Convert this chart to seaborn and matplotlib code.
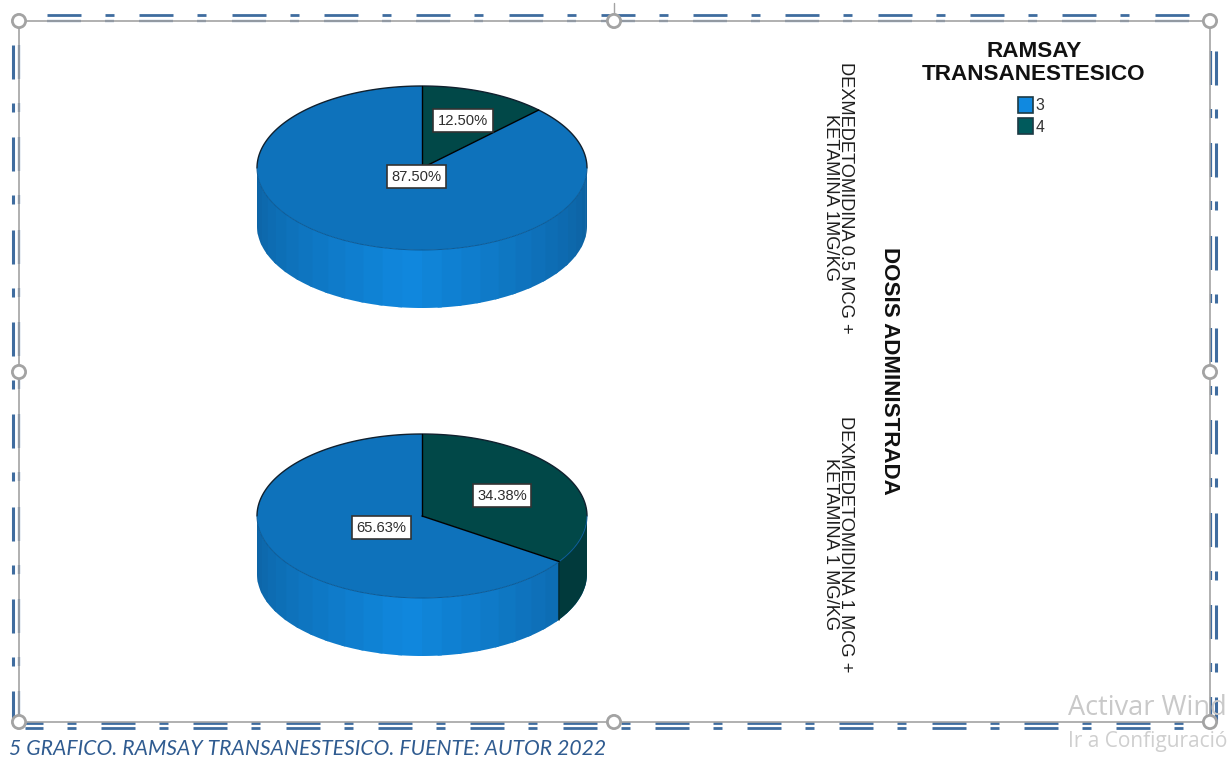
import numpy as np
import pandas as pd
import seaborn as sns
import matplotlib
matplotlib.use("Agg")
import matplotlib.pyplot as plt
from matplotlib import font_manager
from matplotlib.patches import Patch, Circle

# Chart values
dose_labels = ["DEXMEDETOMIDINA 0.5 MCG +\nKETAMINA 1MG/KG",
               "DEXMEDETOMIDINA 1 MCG +\nKETAMINA 1 MG/KG"]
ramsay_3 = [87.50, 65.63]
ramsay_4 = [12.50, 34.38]
legend_levels = ["3", "4"]
legend_title = "RAMSAY\nTRANSANESTESICO"
row_title = "DOSIS ADMINISTRADA"
caption = "5 GRAFICO. RAMSAY TRANSANESTESICO. FUENTE: AUTOR 2022"

doses = pd.DataFrame({"dose": dose_labels, "r3": ramsay_3, "r4": ramsay_4})

sns.set_theme(style="white")
plt.rcParams["font.family"] = ["Liberation Sans", "DejaVu Sans"]

installed = {f.name for f in font_manager.fontManager.ttflist}
has_narrow = "Liberation Sans Narrow" in installed
narrow = ["Liberation Sans Narrow", "DejaVu Sans"] if has_narrow else ["Liberation Sans", "DejaVu Sans"]
narrow_scale = 1.0 if has_narrow else 0.82

top_colors = sns.color_palette(["#0E72BB", "#014848"])
swatch_colors = sns.color_palette(["#1089E0", "#005A5C"])
side_light = np.array(matplotlib.colors.to_rgb("#1088DE"))
side_dark = np.array(matplotlib.colors.to_rgb("#0C609F"))
teal_side = "#013A3C"
frame_blue = "#3F6C9F"
handle_gray = "#A3A3A3"

fig = plt.figure(figsize=(12.27, 7.59), dpi=100, facecolor="white")
ax = fig.add_axes([0, 0, 1, 1])
ax.set_xlim(0, 1227)
ax.set_ylim(759, 0)
ax.axis("off")

RX, RY, DEPTH = 165, 82, 58
CENTER_X = 422
CENTER_YS = [168, 516]


def rim(cy, a0, a1, n=120):
    """Points on the top ellipse; angles run clockwise from twelve o'clock."""
    a = np.radians(np.linspace(a0, a1, n))
    return CENTER_X + RX * np.sin(a), cy - RY * np.cos(a)


def draw_side(cy, split):
    """Extruded wall of the front half, banded from the centre outwards."""
    edges = np.linspace(90, 270, 27)
    # paint each band a little past its neighbour so no seams show
    for a0, a1 in zip(edges[:-1], edges[1:]):
        mid = (a0 + a1) / 2
        x, y = rim(cy, a0, min(a1 + 1.5, 270), 14)
        px = np.r_[x, x[::-1]]
        py = np.r_[y, y[::-1] + DEPTH]
        t = np.clip(1 - abs(mid - 185) / 95, 0, 1) ** 1.2
        color = side_dark + (side_light - side_dark) * t
        ax.fill(px, py, color=color, lw=0, zorder=2)
    if split > 90:
        x, y = rim(cy, 90, split, 40)
        ax.fill(np.r_[x, x[::-1]], np.r_[y, y[::-1] + DEPTH], color=teal_side, lw=0, zorder=2.5)
        ax.plot([x[-1], x[-1]], [y[-1], y[-1] + DEPTH], color="#02282A", lw=1.1, zorder=3)


def draw_wedge(cy, a0, a1, color):
    x, y = rim(cy, a0, a1)
    ax.fill(np.r_[CENTER_X, x], np.r_[cy, y], facecolor=color, edgecolor="none", zorder=4)


def value_tag(x, y, value):
    ax.text(x, y + 0.8, f"{value:.2f}%", ha="center", va="center", fontsize=13 * narrow_scale,
            family=narrow, color="#2E2E2E", zorder=7,
            bbox=dict(boxstyle="square,pad=0.3", fc="white", ec="#333333", lw=1.2))


tag_positions = [((416.5, 176), (463, 120)), ((381.5, 527), (502, 495))]

for cy, row, tags in zip(CENTER_YS, doses.itertuples(), tag_positions):
    split = 360 * row.r4 / (row.r3 + row.r4)
    draw_side(cy, split)
    draw_wedge(cy, 0, split, top_colors[1])
    draw_wedge(cy, split, 360, top_colors[0])
    # dark rim only on the upper half, faint line at the front
    x, y = rim(cy, -90, 90)
    ax.plot(x, y, color="#10202E", lw=1.0, zorder=5)
    x, y = rim(cy, 90, 270)
    ax.plot(x, y, color="#0B5A96", lw=0.7, zorder=5)
    ex, ey = rim(cy, split, split, 1)
    ax.plot([CENTER_X, CENTER_X], [cy - RY, cy], color="black", lw=1.0, zorder=5)
    ax.plot([CENTER_X, ex[0]], [cy, ey[0]], color="black", lw=1.0, zorder=5)
    value_tag(*tags[0], row.r3)
    value_tag(*tags[1], row.r4)

# Row labels on the right-hand facet strip
for cy, label in zip([197.5, 544], doses["dose"]):
    ax.text(838, cy, label, rotation=270, ha="center", va="center", ma="center",
            fontsize=16 * narrow_scale, family=narrow, color="#1E1E1E", linespacing=0.88)
ax.text(890, 371, row_title, rotation=270, ha="center", va="center",
        fontsize=16.1, fontweight="bold", color="#111111")

# Legend
handles = [Patch(facecolor=c, edgecolor="#1D3A44", lw=1.2) for c in swatch_colors]
ax.text(1034, 63, legend_title, ha="center", va="center", fontsize=16.2, fontweight="bold",
        color="#111111", linespacing=1.14)
leg = ax.legend(handles, legend_levels, loc="upper left", bbox_to_anchor=(1018, 97),
                bbox_transform=ax.transData, frameon=False,
                prop={"family": narrow, "size": 14 * narrow_scale},
                handlelength=0.93, handleheight=1.15, handletextpad=0.15,
                labelspacing=0.32, borderpad=0, borderaxespad=0,
                labelcolor="#333333")


# Double dash-dot frame around the chart
def frame_dashes(start, stop, lower=None):
    period = 92.3
    segs = []
    p = start
    while p < stop:
        segs.append((p, min(p + 34, stop)))
        q = p + 58
        if q < stop:
            segs.append((q, min(q + 9, stop)))
        p += period
    if lower is not None:
        segs = [(max(a, lower), b) for a, b in segs if b > lower]
    return segs


for a, b in frame_dashes(47, 1206):
    ax.plot([a, b], [15, 15], color=frame_blue, lw=2.0, solid_capstyle="butt", zorder=1)
    ax.plot([a, b], [20.5, 20.5], color=frame_blue, lw=1.6, solid_capstyle="butt", zorder=1)
for a, b in frame_dashes(8.7, 1205, lower=25):
    ax.plot([a, b], [722.5, 722.5], color=frame_blue, lw=2.0, solid_capstyle="butt", zorder=1)
    ax.plot([a, b], [728, 728], color=frame_blue, lw=2.0, solid_capstyle="butt", zorder=1)
for a, b in frame_dashes(45, 722):
    ax.plot([13, 13], [a, b], color=frame_blue, lw=2.2, solid_capstyle="butt", zorder=1)
    ax.plot([18.5, 18.5], [a, b], color=frame_blue, lw=1.6, solid_capstyle="butt", zorder=1)
for a, b in frame_dashes(51, 722):
    ax.plot([1210.5, 1210.5], [a, b], color=frame_blue, lw=1.6, solid_capstyle="butt", zorder=1)
    ax.plot([1216, 1216], [a, b], color=frame_blue, lw=2.2, solid_capstyle="butt", zorder=1)

# Selection box with round handles
ax.plot([19, 1210, 1210, 19, 19], [21, 21, 722, 722, 21], color=handle_gray, lw=1.2, zorder=2)
ax.plot([614, 614], [3, 15], color=handle_gray, lw=1.0, zorder=2)
for hx, hy in [(19, 21), (614, 21), (1210, 21), (19, 372), (1210, 372),
               (19, 722), (614, 722), (1210, 722)]:
    ax.add_patch(Circle((hx, hy), 6.6, facecolor="white", edgecolor=handle_gray, lw=2.0, zorder=8))

# Caption and system watermark
ax.text(9, 749, caption, ha="left", va="center", fontsize=15.25, style="italic",
        family=["Lato", "DejaVu Sans"], color="#2F5B90")
ax.text(1068, 708, "Activar Windows", ha="left", va="center", fontsize=19.5,
        family=["Open Sans", "DejaVu Sans"], color="#C9C9C9", zorder=9)
ax.text(1068, 742, "Ir a Configuración", ha="left", va="center", fontsize=15,
        family=["Open Sans", "DejaVu Sans"], color="#CFCFCF", zorder=9)

fig.savefig("out.png", dpi=100, facecolor="white")
